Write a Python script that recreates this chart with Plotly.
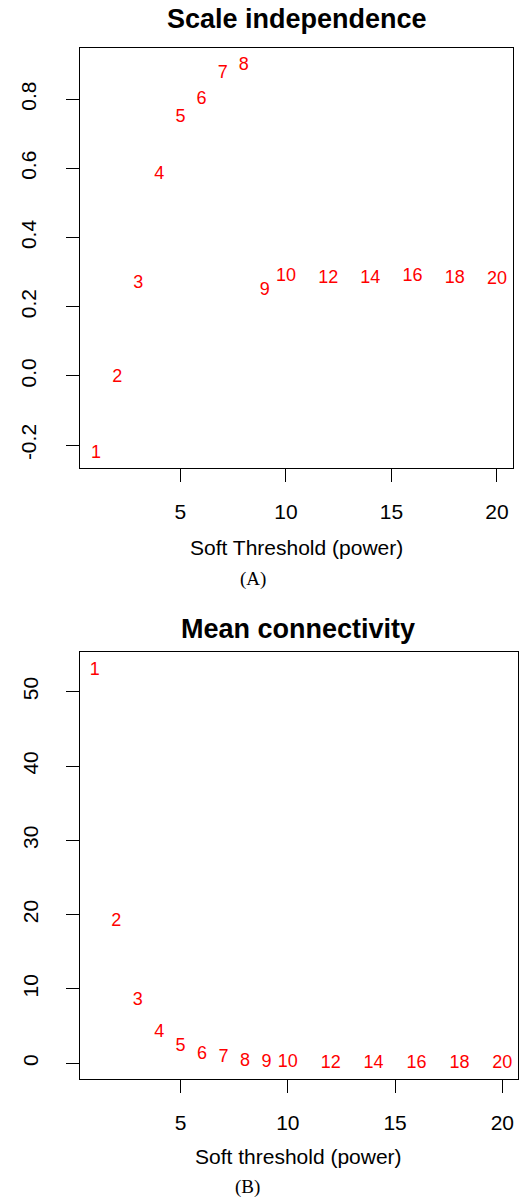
import plotly.graph_objects as go

W, H = 522, 1198

powers = [1, 2, 3, 4, 5, 6, 7, 8, 9, 10, 12, 14, 16, 18, 20]
labels = [str(p) for p in powers]
scale_fit = [-0.223, -0.005, 0.268, 0.583, 0.747, 0.800, 0.875, 0.897, 0.247,
             0.287, 0.282, 0.282, 0.287, 0.282, 0.279]
mean_k = [52.9, 19.07, 8.43, 4.17, 2.24, 1.25, 0.81, 0.31, 0.08, 0.05,
          0.02, 0.01, 0.01, 0.01, 0.01]

x_ticks = [5, 10, 15, 20]
yA_ticks = [-0.2, 0.0, 0.2, 0.4, 0.6, 0.8]
yA_text = ["-0.2", "0.0", "0.2", "0.4", "0.6", "0.8"]
yB_ticks = [0, 10, 20, 30, 40, 50]
yB_text = ["0", "10", "20", "30", "40", "50"]

SANS = "Liberation Sans, Arial, sans-serif"
SERIF = "Liberation Serif, Times New Roman, serif"


def px_x(v):
    return v / W


def px_y(v):
    return 1 - v / H


fig = go.Figure()
fig.add_trace(go.Scatter(x=powers, y=scale_fit, text=labels, mode="text",
                         textposition="middle center",
                         textfont=dict(color="#FF0000", size=18, family=SANS),
                         xaxis="x", yaxis="y", showlegend=False, hoverinfo="skip"))
fig.add_trace(go.Scatter(x=powers, y=mean_k, text=labels, mode="text",
                         textposition="middle center",
                         textfont=dict(color="#FF0000", size=18, family=SANS),
                         xaxis="x2", yaxis="y2", showlegend=False, hoverinfo="skip"))

axis_common = dict(showline=True, linecolor="black", linewidth=1, mirror=True,
                   ticks="outside", ticklen=13, tickcolor="black", tickwidth=1,
                   showgrid=False, zeroline=False,
                   tickfont=dict(size=21, family=SANS, color="black"))

fig.update_layout(
    width=W, height=H,
    margin=dict(l=0, r=0, t=0, b=0),
    paper_bgcolor="white", plot_bgcolor="white",
    xaxis=dict(domain=[px_x(80), px_x(513)], range=[0.24, 20.76],
               tickvals=x_ticks, ticklabelstandoff=12, anchor="y", **axis_common),
    yaxis=dict(domain=[px_y(468), px_y(48)], range=[-0.266, 0.948],
               tickvals=yA_ticks, ticktext=yA_text, tickangle=-90,
               ticklabelstandoff=22, anchor="x", **axis_common),
    xaxis2=dict(domain=[px_x(80), px_x(518)], range=[0.31, 20.73],
                tickvals=x_ticks, ticklabelstandoff=12, anchor="y2", **axis_common),
    yaxis2=dict(domain=[px_y(1079), px_y(652)], range=[-2.11, 55.34],
                tickvals=yB_ticks, ticktext=yB_text, tickangle=-90,
                ticklabelstandoff=20, anchor="x2", **axis_common),
)

annots = [
    ("<b>Scale independence</b>", 296.5, 19, 27, SANS),
    ("Soft Threshold (power)", 296.5, 548, 21, SANS),
    ("(A)", 253, 579, 19, SERIF),
    ("<b>Mean connectivity</b>", 298, 629, 27, SANS),
    ("Soft threshold (power)", 298, 1156, 21, SANS),
    ("(B)", 247, 1187, 19, SERIF),
]
for txt, x, y, sz, fam in annots:
    fig.add_annotation(text=txt, x=px_x(x), y=px_y(y), xref="paper", yref="paper",
                       xanchor="center", yanchor="middle", showarrow=False,
                       font=dict(size=sz, family=fam, color="black"))

fig.write_html("out.html", config={"displayModeBar": False},
               post_script="document.body.style.margin='0px';document.body.style.overflow='hidden';")
